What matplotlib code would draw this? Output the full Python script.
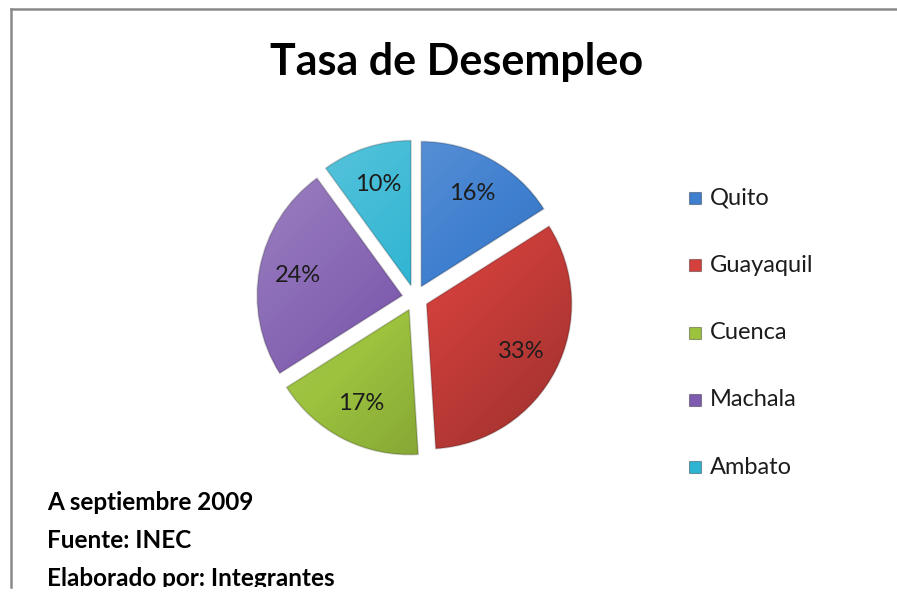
import numpy as np
import matplotlib
matplotlib.use("Agg")
import matplotlib.pyplot as plt
from matplotlib.lines import Line2D
from matplotlib.patches import Rectangle

ciudades = ["Quito", "Guayaquil", "Cuenca", "Machala", "Ambato"]
tasas = [16, 33, 17, 24, 10]
colores = ["#3f7fcf", "#d4413d", "#9cc23e", "#7e5bae", "#2db4d2"]
notas = ["A septiembre 2009", "Fuente: INEC", "Elaborado por: Integrantes"]

plt.rcParams["font.family"] = ["Lato", "DejaVu Sans"]

W, H = 897, 594
fig = plt.figure(figsize=(W / 100, H / 100), dpi=100)
fig.patch.set_facecolor("white")

# pie: centre ~ (415, 298) px, radius ~145 px
R = 145
half = 1.2 * R
ax = fig.add_axes([(415 - half) / W, (H - 298 - half) / H, 2 * half / W, 2 * half / H])
wedges, texts, autotexts = ax.pie(
    tasas, colors=colores, startangle=90, counterclock=False,
    explode=[0.09] * len(tasas), autopct="%1.0f%%", pctdistance=0.73,
    textprops=dict(fontsize=17, color="#1c1c1c"),
    wedgeprops=dict(edgecolor="#00000030", linewidth=1.2))

# soft diagonal shading, clipped to each wedge (Excel bevel look)
yy, xx = np.mgrid[1:-1:200j, -1:1:200j]
t = np.clip((xx - yy) / 2.0 * 0.5 + 0.5, 0, 1)   # 0 top-left .. 1 bottom-right
shade = np.zeros((200, 200, 4))
light = t < 0.5
shade[light, :3] = 1.0
shade[light, 3] = 0.28 * (0.5 - t[light]) * 2
shade[~light, 3] = 0.30 * (t[~light] - 0.5) * 2
for w in wedges:
    im = ax.imshow(shade, extent=(-1.2, 1.2, -1.2, 1.2), zorder=w.get_zorder() + 0.1,
                   interpolation="bilinear")
    im.set_clip_path(w)
for a in autotexts:
    a.set_zorder(5)
ax.set_xlim(-1.2, 1.2)
ax.set_ylim(-1.2, 1.2)
ax.set_aspect("equal")
ax.axis("off")

fig.text(457 / W, 1 - 62 / H, "Tasa de Desempleo", fontsize=31, fontweight="bold",
         ha="center", va="center", color="black")

# legend
y0, dy = 198, 67.3
for i, (c, lab) in enumerate(zip(colores, ciudades)):
    yc = y0 + i * dy
    fig.add_artist(Rectangle((689 / W, 1 - (yc + 6) / H), 12 / W, 12 / H,
                             transform=fig.transFigure, fc=c, ec="#00000055", lw=0.8))
    fig.text(710 / W, 1 - yc / H, lab, fontsize=17, va="center", ha="left", color="#1c1c1c")

for i, s in enumerate(notas):
    fig.text(47 / W, 1 - (503 + i * 37.5) / H, s, fontsize=17.5, fontweight="bold",
             va="center", ha="left", color="black")

# cut-off strip at the bottom and chart border (top + left)
fig.add_artist(Rectangle((0, 0), 1, (H - 587) / H, transform=fig.transFigure,
                         fc="white", ec="none", zorder=20))
fig.add_artist(Line2D([11 / W, 1], [1 - 9 / H, 1 - 9 / H], transform=fig.transFigure,
                      color="#8a8a8a", lw=1.8, zorder=21))
fig.add_artist(Line2D([11 / W, 11 / W], [1 - 9 / H, (H - 587) / H], transform=fig.transFigure,
                      color="#8a8a8a", lw=1.8, zorder=21))

fig.savefig("out.png", dpi=100)
